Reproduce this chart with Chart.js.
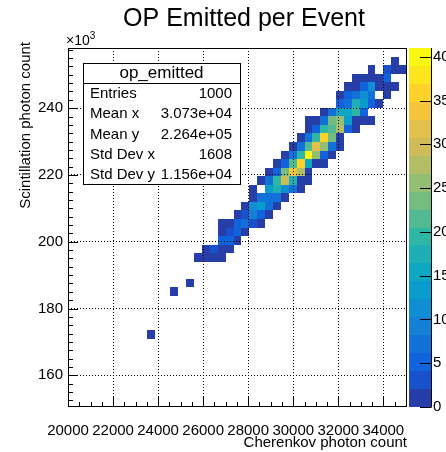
<!DOCTYPE html>
<html>
<head>
<meta charset="utf-8">
<title>OP Emitted per Event</title>
<script src="https://cdn.jsdelivr.net/npm/chart.js@4.4.1/dist/chart.umd.min.js"></script>
<style>
  html, body { margin: 0; padding: 0; background: #fff; }
  canvas { display: block; }
</style>
</head>
<body>
<canvas id="hist" width="446" height="452"></canvas>
<script>
// Histogram binning: Cherenkov (x) vs scintillation (y) photon counts
const xBinLow = 20000;
const xBinWidth = 350;
const xBinCount = 43;
const yBinLow = 150500;
const yBinWidth = 2560;
const yBinCount = 42;

// Non-empty bins, stored row by row: row index, first column, counts along the row
const binRows = [40, 39, 38, 37, 36, 35, 34, 33, 32, 31, 30, 29, 28, 27, 26, 25, 24, 23, 22, 21, 20, 19, 18, 17, 14, 13, 8];
const binFirstCol = [41, 38, 36, 35, 34, 34, 32, 30, 30, 29, 28, 27, 26, 25, 24, 23, 23, 22, 21, 19, 19, 19, 17, 16, 15, 13, 10];
const binCounts = [
  [1],
  [1, 0, 4, 1, 2],
  [2, 1, 2, 2, 5],
  [2, 2, 6, 11, 2, 1, 2],
  [1, 5, 7, 12, 8, 0, 2],
  [6, 7, 17, 13, 5, 1],
  [2, 7, 15, 16, 19, 6],
  [1, 2, 7, 23, 25, 14, 2, 2, 1],
  [2, 6, 20, 22, 27, 6, 2],
  [2, 7, 19, 36, 24, 2],
  [2, 7, 21, 31, 25, 7, 2],
  [2, 7, 20, 41, 25, 6, 2],
  [1, 6, 21, 35, 15, 2, 2],
  [2, 5, 23, 34, 27, 2],
  [2, 7, 19, 30, 18, 2, 1],
  [2, 0, 13, 17, 12, 7, 2],
  [2, 7, 8, 7, 2],
  [2, 12, 14, 7, 2],
  [2, 3, 10, 5, 2],
  [2, 2, 5, 8, 3, 1],
  [2, 3, 6, 2],
  [5, 6, 2],
  [2, 4, 2, 1],
  [2, 2, 2, 1],
  [1],
  [1],
  [1]
];

// colour axis
const zMax = 41;
const nContours = 20;

// axis ticks
const xTicks = [20000, 22000, 24000, 26000, 28000, 30000, 32000, 34000];
const xMinorStep = 500;
const yTicks = [160000, 180000, 200000, 220000, 240000];
const yMinorStep = 2500;
const zTicks = [0, 5, 10, 15, 20, 25, 30, 35, 40];

// statistics box
const statsTitle = 'op_emitted';
const statLabels = ['Entries', 'Mean x', 'Mean y', 'Std Dev x', 'Std Dev y'];
const statValues = ['1000', '3.073e+04', '2.264e+05', '1608', '1.156e+04'];

const FONT = '"Liberation Sans", Arial, Helvetica, sans-serif';

// ROOT kBird gradient
const birdStops = [0, 0.125, 0.25, 0.375, 0.5, 0.625, 0.75, 0.875, 1];
const birdR = [0.2082, 0.0592, 0.0780, 0.0232, 0.1802, 0.5301, 0.8186, 0.9956, 0.9764];
const birdG = [0.1664, 0.3599, 0.5041, 0.6419, 0.7178, 0.7492, 0.7328, 0.7862, 0.9832];
const birdB = [0.5293, 0.8684, 0.8385, 0.7914, 0.6425, 0.4662, 0.3499, 0.1968, 0.0539];

function birdColor(f) {
  let i = 0;
  while (i < birdStops.length - 2 && f > birdStops[i + 1]) i++;
  const t = (f - birdStops[i]) / (birdStops[i + 1] - birdStops[i]);
  const c = arr => Math.round(255 * (arr[i] + (arr[i + 1] - arr[i]) * t));
  return `rgb(${c(birdR)},${c(birdG)},${c(birdB)})`;
}

const contourColors = [];
for (let i = 0; i < nContours; i++) {
  contourColors.push(birdColor(Math.floor((i + 0.99) * 255 / nContours) / 255));
}

const colorFor = (n) => contourColors[Math.min(nContours - 1, Math.floor(n / (zMax / nContours)))];

// flatten the rows into bin centres
const cells = [];
binRows.forEach((row, r) => {
  binCounts[r].forEach((n, i) => {
    if (n <= 0) return;
    cells.push({
      x: xBinLow + (binFirstCol[r] + i + 0.5) * xBinWidth,
      y: yBinLow + (row + 0.5) * yBinWidth,
      n: n
    });
  });
});

// Draws the filled bins underneath the dotted grid
const colzPlugin = {
  id: 'colz',
  beforeDatasetsDraw(chart) {
    const { ctx, scales: { x, y } } = chart;
    ctx.save();
    cells.forEach((c) => {
      const x0 = Math.round(x.getPixelForValue(c.x - xBinWidth / 2));
      const x1 = Math.round(x.getPixelForValue(c.x + xBinWidth / 2));
      const y0 = Math.round(y.getPixelForValue(c.y + yBinWidth / 2));
      const y1 = Math.round(y.getPixelForValue(c.y - yBinWidth / 2));
      ctx.fillStyle = colorFor(c.n);
      ctx.fillRect(x0, y0, x1 - x0, y1 - y0);
    });
    ctx.restore();
  }
};

// Frame, inner ticks, palette, titles and the stats box
const decorPlugin = {
  id: 'decor',
  afterDraw(chart) {
    const { ctx, chartArea: a, scales: { x, y, z } } = chart;
    const px = v => Math.round(x.getPixelForValue(v)) + 0.5;
    const py = v => Math.round(y.getPixelForValue(v)) + 0.5;
    ctx.save();
    ctx.strokeStyle = '#000';
    ctx.fillStyle = '#000';
    ctx.lineWidth = 1;

    // frame
    ctx.strokeRect(a.left + 0.5, a.top + 0.5, a.right - a.left - 1, a.bottom - a.top - 1);

    // x ticks (inside, from the bottom edge)
    ctx.beginPath();
    for (let v = xBinLow; v <= x.max; v += xMinorStep) {
      const len = xTicks.includes(v) ? 10 : 5;
      ctx.moveTo(px(v), a.bottom);
      ctx.lineTo(px(v), a.bottom - len);
    }
    // y ticks (inside, from the left edge)
    for (let v = 150000; v <= y.max; v += yMinorStep) {
      if (v < y.min) continue;
      const len = yTicks.includes(v) ? 10 : 5;
      ctx.moveTo(a.left, py(v));
      ctx.lineTo(a.left + len, py(v));
    }
    ctx.stroke();

    // colour palette
    const palLeft = a.right + 2;
    const palRight = a.right + 24;
    for (let i = 0; i < nContours; i++) {
      const top = Math.round(z.getPixelForValue((i + 1) * zMax / nContours));
      const bot = Math.round(z.getPixelForValue(i * zMax / nContours));
      ctx.fillStyle = contourColors[i];
      ctx.fillRect(palLeft, top, palRight - palLeft, bot - top);
    }
    ctx.fillStyle = '#000';
    ctx.beginPath();
    ctx.moveTo(palRight + 0.5, a.top);
    ctx.lineTo(palRight + 0.5, a.bottom);
    zTicks.forEach((v) => {
      const yy = Math.round(z.getPixelForValue(v)) + 0.5;
      ctx.moveTo(palRight + 0.5, yy);
      ctx.lineTo(palRight - 11, yy);
    });
    ctx.stroke();

    // histogram title
    ctx.font = '25px ' + FONT;
    ctx.textAlign = 'center';
    ctx.textBaseline = 'alphabetic';
    ctx.fillText('OP Emitted per Event', 244, 26);

    // exponent of the y axis
    ctx.textAlign = 'left';
    ctx.font = '14px ' + FONT;
    ctx.fillText('\u00d710', 66, 45);
    const w = ctx.measureText('\u00d710').width;
    ctx.font = '10px ' + FONT;
    ctx.fillText('3', 66 + w, 39);

    // axis titles
    ctx.font = '15px ' + FONT;
    ctx.textAlign = 'right';
    ctx.fillText('Cherenkov photon count', a.right, 447);
    ctx.save();
    ctx.translate(26, 42);
    ctx.rotate(-Math.PI / 2);
    ctx.textBaseline = 'middle';
    ctx.fillText('Scintillation photon count', 0, 0);
    ctx.restore();

    // stats box
    const bx = 83, by = 63, bw = 157, bh = 121, head = 20;
    ctx.fillStyle = '#fff';
    ctx.fillRect(bx, by, bw, bh);
    ctx.strokeRect(bx + 0.5, by + 0.5, bw, bh);
    ctx.beginPath();
    ctx.moveTo(bx, by + head + 0.5);
    ctx.lineTo(bx + bw, by + head + 0.5);
    ctx.stroke();
    ctx.fillStyle = '#000';
    ctx.textBaseline = 'middle';
    ctx.textAlign = 'center';
    ctx.font = '17px ' + FONT;
    ctx.fillText(statsTitle, bx + bw / 2, by + 10);
    ctx.font = '15px ' + FONT;
    statLabels.forEach((label, i) => {
      const yy = by + 31 + i * 20.3;
      ctx.textAlign = 'left';
      ctx.fillText(label, bx + 7, yy);
      ctx.textAlign = 'right';
      ctx.fillText(statValues[i], bx + bw - 8, yy);
    });
    ctx.restore();
  }
};

const tickFont = { family: FONT, size: 15 };

new Chart(document.getElementById('hist'), {
  type: 'scatter',
  data: {
    datasets: [{
      data: cells,
      xAxisID: 'x',
      yAxisID: 'y',
      pointRadius: 0,
      pointHoverRadius: 0
    }]
  },
  options: {
    responsive: false,
    animation: false,
    events: [],
    layout: { padding: { top: 48, left: 0, right: 0, bottom: 0 } },
    plugins: {
      legend: { display: false },
      tooltip: { enabled: false }
    },
    scales: {
      x: {
        type: 'linear',
        position: 'bottom',
        min: xBinLow,
        max: xBinLow + xBinCount * xBinWidth,
        afterBuildTicks: (s) => { s.ticks = xTicks.map(v => ({ value: v })); },
        afterFit: (s) => { s.height = 45; },
        grid: { z: 1, color: '#000', lineWidth: 1, drawTicks: false },
        border: { display: false, dash: [1, 2] },
        ticks: { font: tickFont, color: '#000', padding: 15, maxRotation: 0, autoSkip: false, callback: v => String(v) }
      },
      y: {
        type: 'linear',
        position: 'left',
        min: yBinLow,
        max: yBinLow + yBinCount * yBinWidth,
        afterBuildTicks: (s) => { s.ticks = yTicks.map(v => ({ value: v })); },
        afterFit: (s) => { s.width = 68; },
        grid: { z: 1, color: '#000', lineWidth: 1, drawTicks: false },
        border: { display: false, dash: [1, 2] },
        ticks: { font: tickFont, color: '#000', padding: 5, autoSkip: false, callback: v => String(v / 1000) }
      },
      z: {
        type: 'linear',
        position: 'right',
        min: 0,
        max: zMax,
        afterBuildTicks: (s) => { s.ticks = zTicks.map(v => ({ value: v })); },
        afterFit: (s) => { s.width = 39; },
        grid: { display: false, drawTicks: false },
        border: { display: false },
        ticks: { font: tickFont, color: '#000', padding: 26, autoSkip: false, callback: v => String(v) }
      }
    }
  },
  plugins: [colzPlugin, decorPlugin]
});
</script>
</body>
</html>
